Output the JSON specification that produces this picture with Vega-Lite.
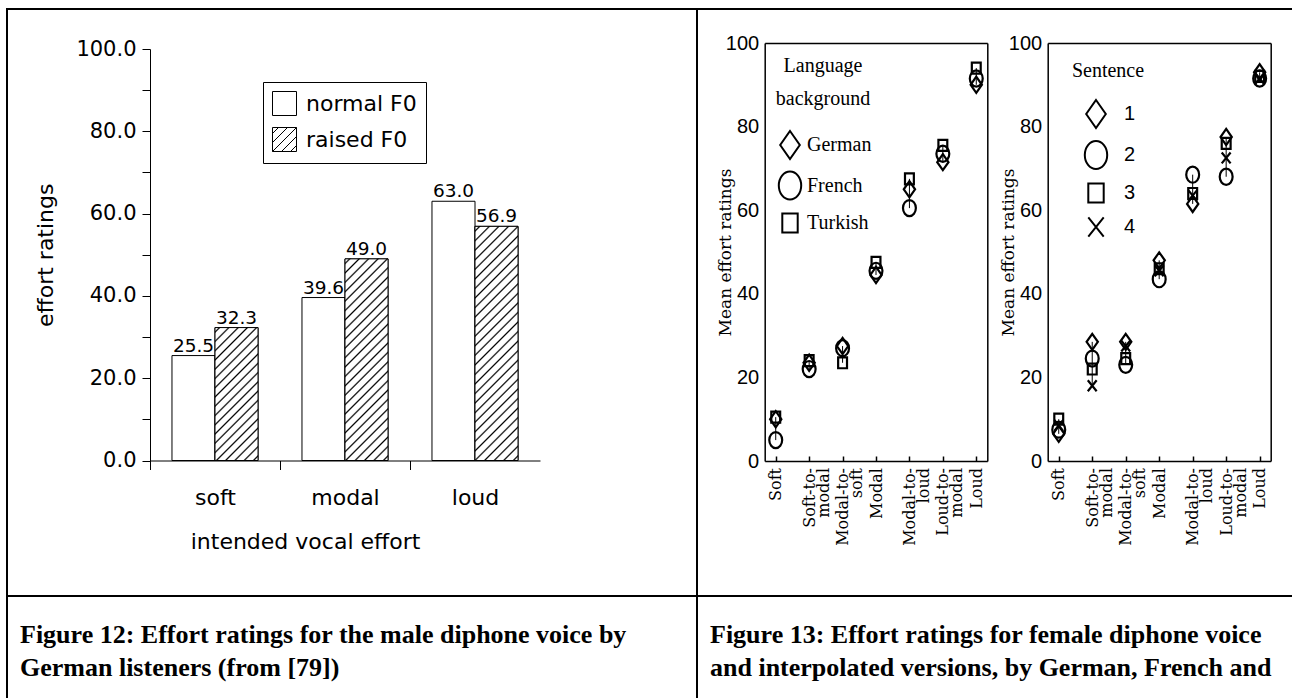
{
"$schema": "https://vega.github.io/schema/vega-lite/v6.json",
"background": "white",
"padding": {"left": 6, "top": 8, "right": 0, "bottom": 0},
"spacing": 0,
"bounds": "flush",
"columns": 2,
"config": {
  "axis": {"grid": false, "labelColor": "black", "titleColor": "black", "domainColor": "black", "tickColor": "black"},
  "legend": {"labelColor": "black", "titleColor": "black"},
  "view": {"stroke": "black", "strokeWidth": 2}
},
"datasets": {
  "bars": [
    {"effort": "soft", "f0": "normal F0", "rating": 25.5},
    {"effort": "soft", "f0": "raised F0", "rating": 32.3},
    {"effort": "modal", "f0": "normal F0", "rating": 39.6},
    {"effort": "modal", "f0": "raised F0", "rating": 49.0},
    {"effort": "loud", "f0": "normal F0", "rating": 63.0},
    {"effort": "loud", "f0": "raised F0", "rating": 56.9}
  ],
  "lang": [
    {"cond": "Soft", "group": "German", "rating": 10},
    {"cond": "Soft", "group": "French", "rating": 5},
    {"cond": "Soft", "group": "Turkish", "rating": 10.5},
    {"cond": "Soft-to-modal", "group": "German", "rating": 23.5},
    {"cond": "Soft-to-modal", "group": "French", "rating": 22},
    {"cond": "Soft-to-modal", "group": "Turkish", "rating": 24},
    {"cond": "Modal-to-soft", "group": "German", "rating": 27.5},
    {"cond": "Modal-to-soft", "group": "French", "rating": 27},
    {"cond": "Modal-to-soft", "group": "Turkish", "rating": 23.5},
    {"cond": "Modal", "group": "German", "rating": 44.5},
    {"cond": "Modal", "group": "French", "rating": 45.5},
    {"cond": "Modal", "group": "Turkish", "rating": 47.5},
    {"cond": "Modal-to-loud", "group": "German", "rating": 65},
    {"cond": "Modal-to-loud", "group": "French", "rating": 60.5},
    {"cond": "Modal-to-loud", "group": "Turkish", "rating": 67.5},
    {"cond": "Loud-to-modal", "group": "German", "rating": 71.5},
    {"cond": "Loud-to-modal", "group": "French", "rating": 73.5},
    {"cond": "Loud-to-modal", "group": "Turkish", "rating": 75.5},
    {"cond": "Loud", "group": "German", "rating": 90},
    {"cond": "Loud", "group": "French", "rating": 91.5},
    {"cond": "Loud", "group": "Turkish", "rating": 94}
  ],
  "sent": [
    {"cond": "Soft", "group": "1", "rating": 6.5},
    {"cond": "Soft", "group": "2", "rating": 7.5},
    {"cond": "Soft", "group": "3", "rating": 10},
    {"cond": "Soft", "group": "4", "rating": 8.5},
    {"cond": "Soft-to-modal", "group": "1", "rating": 28.5},
    {"cond": "Soft-to-modal", "group": "2", "rating": 24.5},
    {"cond": "Soft-to-modal", "group": "3", "rating": 22},
    {"cond": "Soft-to-modal", "group": "4", "rating": 18},
    {"cond": "Modal-to-soft", "group": "1", "rating": 28.5},
    {"cond": "Modal-to-soft", "group": "2", "rating": 23},
    {"cond": "Modal-to-soft", "group": "3", "rating": 24.5},
    {"cond": "Modal-to-soft", "group": "4", "rating": 27.5},
    {"cond": "Modal", "group": "1", "rating": 48},
    {"cond": "Modal", "group": "2", "rating": 43.5},
    {"cond": "Modal", "group": "3", "rating": 46},
    {"cond": "Modal", "group": "4", "rating": 45.5},
    {"cond": "Modal-to-loud", "group": "1", "rating": 61.5},
    {"cond": "Modal-to-loud", "group": "2", "rating": 68.5},
    {"cond": "Modal-to-loud", "group": "3", "rating": 64},
    {"cond": "Modal-to-loud", "group": "4", "rating": 63.5},
    {"cond": "Loud-to-modal", "group": "1", "rating": 77.5},
    {"cond": "Loud-to-modal", "group": "2", "rating": 68},
    {"cond": "Loud-to-modal", "group": "3", "rating": 76},
    {"cond": "Loud-to-modal", "group": "4", "rating": 72.5},
    {"cond": "Loud", "group": "1", "rating": 93},
    {"cond": "Loud", "group": "2", "rating": 91.5},
    {"cond": "Loud", "group": "3", "rating": 92},
    {"cond": "Loud", "group": "4", "rating": 91.5}
  ],
  "captions": [
    {"cell": "A", "text": "Figure 12: Effort ratings for the male diphone voice by\nGerman listeners (from [79])"},
    {"cell": "B", "text": "Figure 13: Effort ratings for female diphone voice\nand interpolated versions, by German, French and"}
  ]
},
"concat": [
  {
    "width": 690, "height": 587,
    "data": {"name": "bars"},
    "encoding": {
      "x": {"field": "effort", "type": "nominal", "sort": ["soft", "modal", "loud"],
        "scale": {"range": [143, 533], "paddingInner": 0.338, "paddingOuter": 0.169},
        "axis": {"orient": "bottom", "offset": -135.5, "bandPosition": 0, "tickOffset": -22, "labelOffset": 22, "tickSize": 9, "labelAngle": 0, "labelFont": "DejaVu Sans", "labelFontSize": 22, "labelBaseline": "alphabetic", "labelPadding": 35, "title": "intended vocal effort", "titleFont": "DejaVu Sans", "titleFontSize": 22, "titleFontWeight": "normal", "titleX": 298, "titleY": 88, "titleBaseline": "alphabetic"}},
      "xOffset": {"field": "f0", "type": "nominal", "sort": ["normal F0", "raised F0"]},
      "y": {"field": "rating", "type": "quantitative",
        "scale": {"domain": [0, 100], "range": [451.5, 40], "nice": false},
        "axis": {"orient": "left", "offset": -143, "values": [0, 10, 20, 30, 40, 50, 60, 70, 80, 90, 100], "labelExpr": "datum.value % 20 === 0 ? format(datum.value, '.1f') : ''", "tickSize": 8, "labelPadding": 6, "labelFont": "DejaVu Sans", "labelFontSize": 21, "labelOverlap": false, "title": "effort ratings", "titleFont": "DejaVu Sans", "titleFontSize": 22, "titleFontWeight": "normal", "titleX": -93}}
    },
    "layer": [
      {
        "mark": {"type": "bar", "stroke": "black", "strokeWidth": 1, "fill": "white"}
      },
      {
        "transform": [{"filter": "datum.f0 === 'raised F0'"}],
        "mark": {"type": "bar", "stroke": "black", "strokeWidth": 1},
        "encoding": {
          "fill": {
            "condition": [
              {"test": "datum.effort === 'soft'", "value": {"gradient": "linear", "x1": 0, "y1": 0, "x2": 0.3877, "y2": 1.1981, "stops": [
                {"offset": 0.0166, "color": "#fff"}, {"offset": 0.0263, "color": "#000"}, {"offset": 0.0360, "color": "#fff"},
                {"offset": 0.0692, "color": "#fff"}, {"offset": 0.0789, "color": "#000"}, {"offset": 0.0886, "color": "#fff"},
                {"offset": 0.1219, "color": "#fff"}, {"offset": 0.1316, "color": "#000"}, {"offset": 0.1413, "color": "#fff"},
                {"offset": 0.1745, "color": "#fff"}, {"offset": 0.1842, "color": "#000"}, {"offset": 0.1939, "color": "#fff"},
                {"offset": 0.2271, "color": "#fff"}, {"offset": 0.2368, "color": "#000"}, {"offset": 0.2465, "color": "#fff"},
                {"offset": 0.2798, "color": "#fff"}, {"offset": 0.2895, "color": "#000"}, {"offset": 0.2992, "color": "#fff"},
                {"offset": 0.3324, "color": "#fff"}, {"offset": 0.3421, "color": "#000"}, {"offset": 0.3518, "color": "#fff"},
                {"offset": 0.3850, "color": "#fff"}, {"offset": 0.3947, "color": "#000"}, {"offset": 0.4044, "color": "#fff"},
                {"offset": 0.4377, "color": "#fff"}, {"offset": 0.4474, "color": "#000"}, {"offset": 0.4571, "color": "#fff"},
                {"offset": 0.4903, "color": "#fff"}, {"offset": 0.5000, "color": "#000"}, {"offset": 0.5097, "color": "#fff"},
                {"offset": 0.5429, "color": "#fff"}, {"offset": 0.5526, "color": "#000"}, {"offset": 0.5623, "color": "#fff"},
                {"offset": 0.5956, "color": "#fff"}, {"offset": 0.6053, "color": "#000"}, {"offset": 0.6150, "color": "#fff"},
                {"offset": 0.6482, "color": "#fff"}, {"offset": 0.6579, "color": "#000"}, {"offset": 0.6676, "color": "#fff"},
                {"offset": 0.7008, "color": "#fff"}, {"offset": 0.7105, "color": "#000"}, {"offset": 0.7202, "color": "#fff"},
                {"offset": 0.7535, "color": "#fff"}, {"offset": 0.7632, "color": "#000"}, {"offset": 0.7729, "color": "#fff"},
                {"offset": 0.8061, "color": "#fff"}, {"offset": 0.8158, "color": "#000"}, {"offset": 0.8255, "color": "#fff"},
                {"offset": 0.8587, "color": "#fff"}, {"offset": 0.8684, "color": "#000"}, {"offset": 0.8781, "color": "#fff"},
                {"offset": 0.9114, "color": "#fff"}, {"offset": 0.9211, "color": "#000"}, {"offset": 0.9308, "color": "#fff"},
                {"offset": 0.9640, "color": "#fff"}, {"offset": 0.9737, "color": "#000"}, {"offset": 0.9834, "color": "#fff"}
              ]}},
              {"test": "datum.effort === 'modal'", "value": {"gradient": "linear", "x1": 0, "y1": 0, "x2": 0.2475, "y2": 1.1605, "stops": [
                {"offset": 0.0122, "color": "#fff"}, {"offset": 0.0192, "color": "#000"}, {"offset": 0.0262, "color": "#fff"},
                {"offset": 0.0507, "color": "#fff"}, {"offset": 0.0577, "color": "#000"}, {"offset": 0.0647, "color": "#fff"},
                {"offset": 0.0892, "color": "#fff"}, {"offset": 0.0962, "color": "#000"}, {"offset": 0.1032, "color": "#fff"},
                {"offset": 0.1276, "color": "#fff"}, {"offset": 0.1346, "color": "#000"}, {"offset": 0.1416, "color": "#fff"},
                {"offset": 0.1661, "color": "#fff"}, {"offset": 0.1731, "color": "#000"}, {"offset": 0.1801, "color": "#fff"},
                {"offset": 0.2045, "color": "#fff"}, {"offset": 0.2115, "color": "#000"}, {"offset": 0.2185, "color": "#fff"},
                {"offset": 0.2430, "color": "#fff"}, {"offset": 0.2500, "color": "#000"}, {"offset": 0.2570, "color": "#fff"},
                {"offset": 0.2815, "color": "#fff"}, {"offset": 0.2885, "color": "#000"}, {"offset": 0.2955, "color": "#fff"},
                {"offset": 0.3199, "color": "#fff"}, {"offset": 0.3269, "color": "#000"}, {"offset": 0.3339, "color": "#fff"},
                {"offset": 0.3584, "color": "#fff"}, {"offset": 0.3654, "color": "#000"}, {"offset": 0.3724, "color": "#fff"},
                {"offset": 0.3968, "color": "#fff"}, {"offset": 0.4038, "color": "#000"}, {"offset": 0.4108, "color": "#fff"},
                {"offset": 0.4353, "color": "#fff"}, {"offset": 0.4423, "color": "#000"}, {"offset": 0.4493, "color": "#fff"},
                {"offset": 0.4738, "color": "#fff"}, {"offset": 0.4808, "color": "#000"}, {"offset": 0.4878, "color": "#fff"},
                {"offset": 0.5122, "color": "#fff"}, {"offset": 0.5192, "color": "#000"}, {"offset": 0.5262, "color": "#fff"},
                {"offset": 0.5507, "color": "#fff"}, {"offset": 0.5577, "color": "#000"}, {"offset": 0.5647, "color": "#fff"},
                {"offset": 0.5892, "color": "#fff"}, {"offset": 0.5962, "color": "#000"}, {"offset": 0.6032, "color": "#fff"},
                {"offset": 0.6276, "color": "#fff"}, {"offset": 0.6346, "color": "#000"}, {"offset": 0.6416, "color": "#fff"},
                {"offset": 0.6661, "color": "#fff"}, {"offset": 0.6731, "color": "#000"}, {"offset": 0.6801, "color": "#fff"},
                {"offset": 0.7045, "color": "#fff"}, {"offset": 0.7115, "color": "#000"}, {"offset": 0.7185, "color": "#fff"},
                {"offset": 0.7430, "color": "#fff"}, {"offset": 0.7500, "color": "#000"}, {"offset": 0.7570, "color": "#fff"},
                {"offset": 0.7815, "color": "#fff"}, {"offset": 0.7885, "color": "#000"}, {"offset": 0.7955, "color": "#fff"},
                {"offset": 0.8199, "color": "#fff"}, {"offset": 0.8269, "color": "#000"}, {"offset": 0.8339, "color": "#fff"},
                {"offset": 0.8584, "color": "#fff"}, {"offset": 0.8654, "color": "#000"}, {"offset": 0.8724, "color": "#fff"},
                {"offset": 0.8968, "color": "#fff"}, {"offset": 0.9038, "color": "#000"}, {"offset": 0.9108, "color": "#fff"},
                {"offset": 0.9353, "color": "#fff"}, {"offset": 0.9423, "color": "#000"}, {"offset": 0.9493, "color": "#fff"},
                {"offset": 0.9738, "color": "#fff"}, {"offset": 0.9808, "color": "#000"}, {"offset": 0.9878, "color": "#fff"}
              ]}},
              {"test": "datum.effort === 'loud'", "value": {"gradient": "linear", "x1": 0, "y1": 0, "x2": 0.2103, "y2": 1.1451, "stops": [
                {"offset": 0.0111, "color": "#fff"}, {"offset": 0.0172, "color": "#000"}, {"offset": 0.0233, "color": "#fff"},
                {"offset": 0.0456, "color": "#fff"}, {"offset": 0.0517, "color": "#000"}, {"offset": 0.0578, "color": "#fff"},
                {"offset": 0.0801, "color": "#fff"}, {"offset": 0.0862, "color": "#000"}, {"offset": 0.0923, "color": "#fff"},
                {"offset": 0.1146, "color": "#fff"}, {"offset": 0.1207, "color": "#000"}, {"offset": 0.1268, "color": "#fff"},
                {"offset": 0.1491, "color": "#fff"}, {"offset": 0.1552, "color": "#000"}, {"offset": 0.1613, "color": "#fff"},
                {"offset": 0.1836, "color": "#fff"}, {"offset": 0.1897, "color": "#000"}, {"offset": 0.1958, "color": "#fff"},
                {"offset": 0.2180, "color": "#fff"}, {"offset": 0.2241, "color": "#000"}, {"offset": 0.2302, "color": "#fff"},
                {"offset": 0.2525, "color": "#fff"}, {"offset": 0.2586, "color": "#000"}, {"offset": 0.2647, "color": "#fff"},
                {"offset": 0.2870, "color": "#fff"}, {"offset": 0.2931, "color": "#000"}, {"offset": 0.2992, "color": "#fff"},
                {"offset": 0.3215, "color": "#fff"}, {"offset": 0.3276, "color": "#000"}, {"offset": 0.3337, "color": "#fff"},
                {"offset": 0.3560, "color": "#fff"}, {"offset": 0.3621, "color": "#000"}, {"offset": 0.3682, "color": "#fff"},
                {"offset": 0.3905, "color": "#fff"}, {"offset": 0.3966, "color": "#000"}, {"offset": 0.4027, "color": "#fff"},
                {"offset": 0.4249, "color": "#fff"}, {"offset": 0.4310, "color": "#000"}, {"offset": 0.4371, "color": "#fff"},
                {"offset": 0.4594, "color": "#fff"}, {"offset": 0.4655, "color": "#000"}, {"offset": 0.4716, "color": "#fff"},
                {"offset": 0.4939, "color": "#fff"}, {"offset": 0.5000, "color": "#000"}, {"offset": 0.5061, "color": "#fff"},
                {"offset": 0.5284, "color": "#fff"}, {"offset": 0.5345, "color": "#000"}, {"offset": 0.5406, "color": "#fff"},
                {"offset": 0.5629, "color": "#fff"}, {"offset": 0.5690, "color": "#000"}, {"offset": 0.5751, "color": "#fff"},
                {"offset": 0.5973, "color": "#fff"}, {"offset": 0.6034, "color": "#000"}, {"offset": 0.6095, "color": "#fff"},
                {"offset": 0.6318, "color": "#fff"}, {"offset": 0.6379, "color": "#000"}, {"offset": 0.6440, "color": "#fff"},
                {"offset": 0.6663, "color": "#fff"}, {"offset": 0.6724, "color": "#000"}, {"offset": 0.6785, "color": "#fff"},
                {"offset": 0.7008, "color": "#fff"}, {"offset": 0.7069, "color": "#000"}, {"offset": 0.7130, "color": "#fff"},
                {"offset": 0.7353, "color": "#fff"}, {"offset": 0.7414, "color": "#000"}, {"offset": 0.7475, "color": "#fff"},
                {"offset": 0.7698, "color": "#fff"}, {"offset": 0.7759, "color": "#000"}, {"offset": 0.7820, "color": "#fff"},
                {"offset": 0.8042, "color": "#fff"}, {"offset": 0.8103, "color": "#000"}, {"offset": 0.8164, "color": "#fff"},
                {"offset": 0.8387, "color": "#fff"}, {"offset": 0.8448, "color": "#000"}, {"offset": 0.8509, "color": "#fff"},
                {"offset": 0.8732, "color": "#fff"}, {"offset": 0.8793, "color": "#000"}, {"offset": 0.8854, "color": "#fff"},
                {"offset": 0.9077, "color": "#fff"}, {"offset": 0.9138, "color": "#000"}, {"offset": 0.9199, "color": "#fff"},
                {"offset": 0.9422, "color": "#fff"}, {"offset": 0.9483, "color": "#000"}, {"offset": 0.9544, "color": "#fff"},
                {"offset": 0.9767, "color": "#fff"}, {"offset": 0.9828, "color": "#000"}, {"offset": 0.9889, "color": "#fff"}
              ]}}
            ],
            "value": "white"
          }
        }
      },
      {
        "mark": {"type": "text", "font": "DejaVu Sans", "fontSize": 18.5, "baseline": "alphabetic", "dy": -4, "color": "black"},
        "encoding": {"text": {"field": "rating", "type": "quantitative", "format": ".1f"}}
      },
      {
        "mark": {"type": "point", "color": "black", "filled": false, "strokeWidth": 1, "opacity": 0, "size": 10},
        "encoding": {
          "shape": {"field": "f0", "type": "nominal",
            "scale": {"domain": ["normal F0", "raised F0"], "range": ["M-1,-1H1V1H-1Z", "M-1,-1H1V1H-1Z M-1,-0.5L-0.5,-1 M-1,0.25L0.25,-1 M-1,1L1,-1 M-0.25,1L1,-0.25 M0.5,1L1,0.5"]},
            "legend": {"orient": "none", "legendX": 256, "legendY": 73, "title": null, "strokeColor": "black", "fillColor": "white", "padding": 9, "symbolSize": 576, "symbolStrokeColor": "black", "symbolStrokeWidth": 1, "symbolOpacity": 1, "symbolFillColor": "white", "rowPadding": 7, "labelOffset": 9, "labelFont": "DejaVu Sans", "labelFontSize": 22}}
        }
      }
    ]
  },
  {
    "width": 597, "height": 587,
    "resolve": {"scale": {"x": "independent", "y": "independent", "shape": "independent"}, "axis": {"x": "independent", "y": "independent"}, "legend": {"shape": "independent"}},
    "layer": [
      {
        "data": {"name": "lang"},
        "resolve": {"axis": {"x": "independent", "y": "independent"}},
        "layer": [
          {
            "mark": {"type": "rule", "color": "black", "strokeWidth": 1},
            "encoding": {
              "x": {"field": "cond", "type": "nominal", "sort": ["Soft", "Soft-to-modal", "Modal-to-soft", "Modal", "Modal-to-loud", "Loud-to-modal", "Loud"],
                "scale": {"type": "point", "range": [67.7, 290.3], "padding": 0.33},
                "axis": {"orient": "top", "offset": -34, "labels": false, "ticks": false, "title": null, "domainWidth": 1.5}},
              "y": {"aggregate": "min", "field": "rating", "type": "quantitative",
                "scale": {"domain": [0, 100], "range": [452, 34], "nice": false, "zero": false},
                "axis": {"orient": "right", "offset": -306.7, "labels": false, "ticks": false, "title": null, "domainWidth": 1.5}},
              "y2": {"aggregate": "max", "field": "rating"}
            }
          },
          {
            "mark": {"type": "point", "filled": false, "color": "black", "strokeWidth": 2.2, "size": 260, "opacity": 1},
            "encoding": {
              "x": {"field": "cond", "type": "nominal", "sort": ["Soft", "Soft-to-modal", "Modal-to-soft", "Modal", "Modal-to-loud", "Loud-to-modal", "Loud"],
                "axis": {"orient": "bottom", "offset": -135, "title": null, "domainWidth": 1.5, "tickSize": -5, "tickWidth": 1.5, "labelAngle": 270, "labelAlign": "right", "labelBaseline": "middle", "labelPadding": 11.5, "labelFont": "DejaVu Serif", "labelFontSize": 16, "labelLineHeight": 14, "labelOverlap": false, "labelLimit": 0,
                  "labelExpr": "indexof(datum.label, '-to-') > 0 ? [slice(datum.label, 0, indexof(datum.label, '-to-') + 4) + '\u00a0\u00a0\u00a0\u00a0\u00a0\u00a0\u00a0\u00a0\u00a0', slice(datum.label, indexof(datum.label, '-to-') + 4)] : datum.label"}},
              "y": {"field": "rating", "type": "quantitative",
                "axis": {"orient": "left", "offset": -67.7, "values": [0, 20, 40, 60, 80, 100], "ticks": false, "labelPadding": 6, "labelFont": "'Liberation Sans Narrow', 'Liberation Sans', sans-serif", "labelFontSize": 20, "domainWidth": 1.5, "title": "Mean effort ratings", "titleFont": "DejaVu Serif", "titleFontSize": 17, "titleFontWeight": "normal", "titleX": -30}},
              "shape": {"field": "group", "type": "nominal",
                "scale": {"domain": ["German", "French", "Turkish"], "range": ["M0,-1L0.7,0L0,1L-0.7,0Z", "M0,-1A0.8,1,0,1,1,0,1A0.8,1,0,1,1,0,-1Z", "M-0.55,-0.68L0.55,-0.68L0.55,0.68L-0.55,0.68Z"]},
                "legend": {"orient": "none", "legendX": 78, "legendY": 47, "padding": 0, "title": ["Language", "background"], "titleFont": "Liberation Serif", "titleFontSize": 20, "titleFontWeight": "normal", "titleLineHeight": 33, "titleAnchor": "middle", "titleAlign": "center", "titlePadding": 21, "labelFont": "Liberation Serif", "labelFontSize": 20, "labelOffset": 2, "rowPadding": 4.5, "symbolSize": 784, "symbolStrokeWidth": 2, "symbolStrokeColor": "black"}}
            }
          }
        ]
      },
      {
        "data": {"name": "sent"},
        "resolve": {"axis": {"x": "independent", "y": "independent"}},
        "layer": [
          {
            "mark": {"type": "rule", "color": "black", "strokeWidth": 1},
            "encoding": {
              "x": {"field": "cond", "type": "nominal", "sort": ["Soft", "Soft-to-modal", "Modal-to-soft", "Modal", "Modal-to-loud", "Loud-to-modal", "Loud"],
                "scale": {"type": "point", "range": [350.7, 573.7], "padding": 0.33},
                "axis": {"orient": "top", "offset": -34, "labels": false, "ticks": false, "title": null, "domainWidth": 1.5}},
              "y": {"aggregate": "min", "field": "rating", "type": "quantitative",
                "scale": {"domain": [0, 100], "range": [452, 34], "nice": false, "zero": false},
                "axis": {"orient": "right", "offset": -23.3, "labels": false, "ticks": false, "title": null, "domainWidth": 1.5}},
              "y2": {"aggregate": "max", "field": "rating"}
            }
          },
          {
            "mark": {"type": "point", "filled": false, "color": "black", "strokeWidth": 2.2, "size": 260, "opacity": 1},
            "encoding": {
              "x": {"field": "cond", "type": "nominal", "sort": ["Soft", "Soft-to-modal", "Modal-to-soft", "Modal", "Modal-to-loud", "Loud-to-modal", "Loud"],
                "axis": {"orient": "bottom", "offset": -135, "title": null, "domainWidth": 1.5, "tickSize": -5, "tickWidth": 1.5, "labelAngle": 270, "labelAlign": "right", "labelBaseline": "middle", "labelPadding": 11.5, "labelFont": "DejaVu Serif", "labelFontSize": 16, "labelLineHeight": 14, "labelOverlap": false, "labelLimit": 0,
                  "labelExpr": "indexof(datum.label, '-to-') > 0 ? [slice(datum.label, 0, indexof(datum.label, '-to-') + 4) + '\u00a0\u00a0\u00a0\u00a0\u00a0\u00a0\u00a0\u00a0\u00a0', slice(datum.label, indexof(datum.label, '-to-') + 4)] : datum.label"}},
              "y": {"field": "rating", "type": "quantitative",
                "axis": {"orient": "left", "offset": -350.7, "values": [0, 20, 40, 60, 80, 100], "ticks": false, "labelPadding": 6, "labelFont": "'Liberation Sans Narrow', 'Liberation Sans', sans-serif", "labelFontSize": 20, "domainWidth": 1.5, "title": "Mean effort ratings", "titleFont": "DejaVu Serif", "titleFontSize": 17, "titleFontWeight": "normal", "titleX": -30}},
              "shape": {"field": "group", "type": "nominal",
                "scale": {"domain": ["1", "2", "3", "4"], "range": ["M0,-1L0.7,0L0,1L-0.7,0Z", "M0,-1A0.8,1,0,1,1,0,1A0.8,1,0,1,1,0,-1Z", "M-0.55,-0.68L0.55,-0.68L0.55,0.68L-0.55,0.68Z", "M-0.55,-0.68L0.55,0.68M0.55,-0.68L-0.55,0.68"]},
                "legend": {"orient": "none", "legendX": 375, "legendY": 52, "padding": 0, "title": "Sentence", "titleFont": "Liberation Serif", "titleFontSize": 20, "titleFontWeight": "normal", "titleAnchor": "middle", "titleAlign": "center", "titlePadding": 18, "labelFont": "'Liberation Sans Narrow', 'Liberation Sans', sans-serif", "labelFontSize": 20, "labelOffset": 13, "rowPadding": 5, "symbolSize": 784, "symbolStrokeWidth": 2, "symbolStrokeColor": "black"}}
            }
          }
        ]
      }
    ]
  },
  {
    "width": 690, "height": 104,
    "data": {"name": "captions"},
    "transform": [{"filter": "datum.cell === 'A'"}],
    "mark": {"type": "text", "align": "left", "baseline": "middle", "lineBreak": "\n", "lineHeight": 33, "font": "Liberation Serif", "fontWeight": "bold", "fontSize": 26, "dx": 13, "dy": -13, "color": "black"},
    "encoding": {
      "x": {"datum": 0, "type": "quantitative", "scale": {"domain": [0, 1]}, "axis": null},
      "y": {"datum": 0.5, "type": "quantitative", "scale": {"domain": [0, 1]}, "axis": null},
      "text": {"field": "text"}
    }
  },
  {
    "width": 597, "height": 104,
    "data": {"name": "captions"},
    "transform": [{"filter": "datum.cell === 'B'"}],
    "mark": {"type": "text", "align": "left", "baseline": "middle", "lineBreak": "\n", "lineHeight": 33, "font": "Liberation Serif", "fontWeight": "bold", "fontSize": 26, "dx": 13, "dy": -13, "color": "black"},
    "encoding": {
      "x": {"datum": 0, "type": "quantitative", "scale": {"domain": [0, 1]}, "axis": null},
      "y": {"datum": 0.5, "type": "quantitative", "scale": {"domain": [0, 1]}, "axis": null},
      "text": {"field": "text"}
    }
  }
]
}
